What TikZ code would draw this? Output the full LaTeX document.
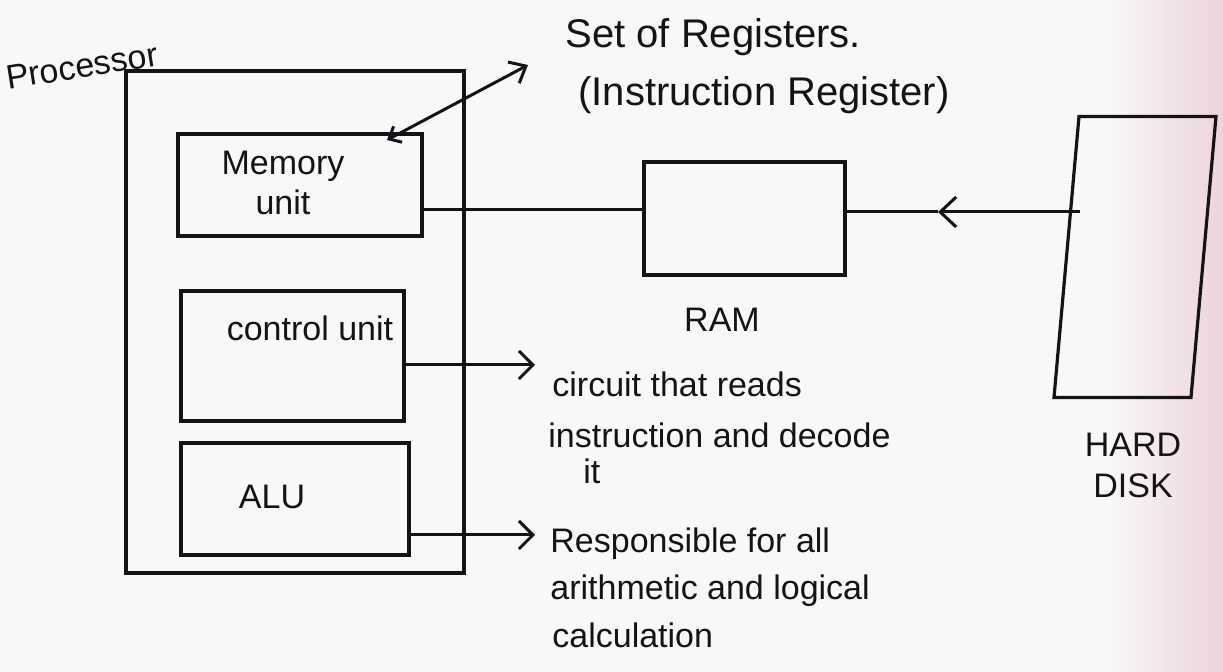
\documentclass[tikz,border=0pt]{standalone}
\usepackage{fontspec}
\setmainfont{Liberation Sans}
\usetikzlibrary{arrows.meta}
\definecolor{ink}{HTML}{141418}
\definecolor{paper}{RGB}{249,247,248}
\definecolor{pinkish}{RGB}{236,212,218}
\begin{document}
\begin{tikzpicture}[x=0.5pt,y=-0.5pt,
  box/.style={draw=ink,line width=1.6pt,inner sep=0pt},
  lbl/.style={text=ink,font=\fontsize{17}{20}\selectfont,inner sep=0pt,align=center},
  note/.style={text=ink,font=\fontsize{17}{20}\selectfont,inner sep=0pt,anchor=base west},
  big/.style={text=ink,font=\fontsize{20}{24}\selectfont,inner sep=0pt,anchor=base west},
  conn/.style={draw=ink,line width=1.5pt},
  tip/.style={-{Straight Barb[length=7pt,width=14pt]}}
]
\fill[paper] (0,0) rectangle (1223,672);
\shade[left color=paper,right color=pinkish] (1110,0) rectangle (1223,672);
\useasboundingbox (0,0) rectangle (1223,672);

% processor and its units
\node[box,minimum width=169pt,minimum height=251pt] (proc) at (295,322) {};
\node[lbl,rotate=9] (proclbl) at (82,66) {Processor};
\node[box,minimum width=122pt,minimum height=51pt,
  label={[lbl,xshift=-8.5pt,yshift=1pt]center:{Memory\\unit}}] (mem) at (300,185) {};
\node[box,minimum width=111.5pt,minimum height=65pt,
  label={[lbl,xshift=8.75pt,yshift=14pt]center:{control unit}}] (ctrl) at (292.5,356) {};
\node[box,minimum width=114pt,minimum height=56pt,
  label={[lbl,xshift=-11.5pt,yshift=1pt]center:{ALU}}] (alu) at (295,499) {};

% RAM
\node[box,minimum width=100.5pt,minimum height=56.5pt] (ram) at (744.5,218.5) {};
\node[lbl] (ramlbl) at (722,320) {RAM};

% hard disk
\node[box,minimum width=68.5pt,minimum height=140.5pt,xslant=0.089,transform shape] (hd) at (1135,257) {};
\node[lbl,font=\fontsize{17}{20.5}\selectfont] (hdlbl) at (1133,465) {HARD\\DISK};

% texts
\node[big] (reg1) at (565,48) {Set of Registers.};
\node[big] (reg2) at (578,106) {(Instruction Register)};
\node[note] (c1) at (552,397) {circuit that reads};
\node[note] (c2) at (548,448) {instruction and decode};
\node[note] (c3) at (583,484) {it};
\node[note] (r1) at (550,553) {Responsible for all};
\node[note] (r2) at (550,600) {arithmetic and logical};
\node[note] (r3) at (552,648) {calculation};

% connectors
\coordinate (memtip) at (387,140);
\coordinate (regtip) at (528,65);
\draw[conn,{Straight Barb[length=5pt,width=9pt]}-{Straight Barb[length=7pt,width=12pt]}] (memtip) -- (regtip);

\coordinate (busy) at (0,210);
\draw[conn] (mem.east |- busy) -- (ram.west |- busy);

\coordinate (hdl) at (1080,212);
\coordinate (hdmid) at (938,212);
\draw[conn,-{Straight Barb[length=8pt,width=15pt]}] (hdl) -- (hdmid);
\draw[conn] (hdmid) -- (hdmid -| ram.east);

\coordinate (ctrlarr) at (535,365);
\draw[conn,tip] (ctrl.east |- ctrlarr) -- (ctrlarr);

\coordinate (aluarr) at (535,535);
\draw[conn,tip] (alu.east |- aluarr) -- (aluarr);
\end{tikzpicture}
\end{document}
